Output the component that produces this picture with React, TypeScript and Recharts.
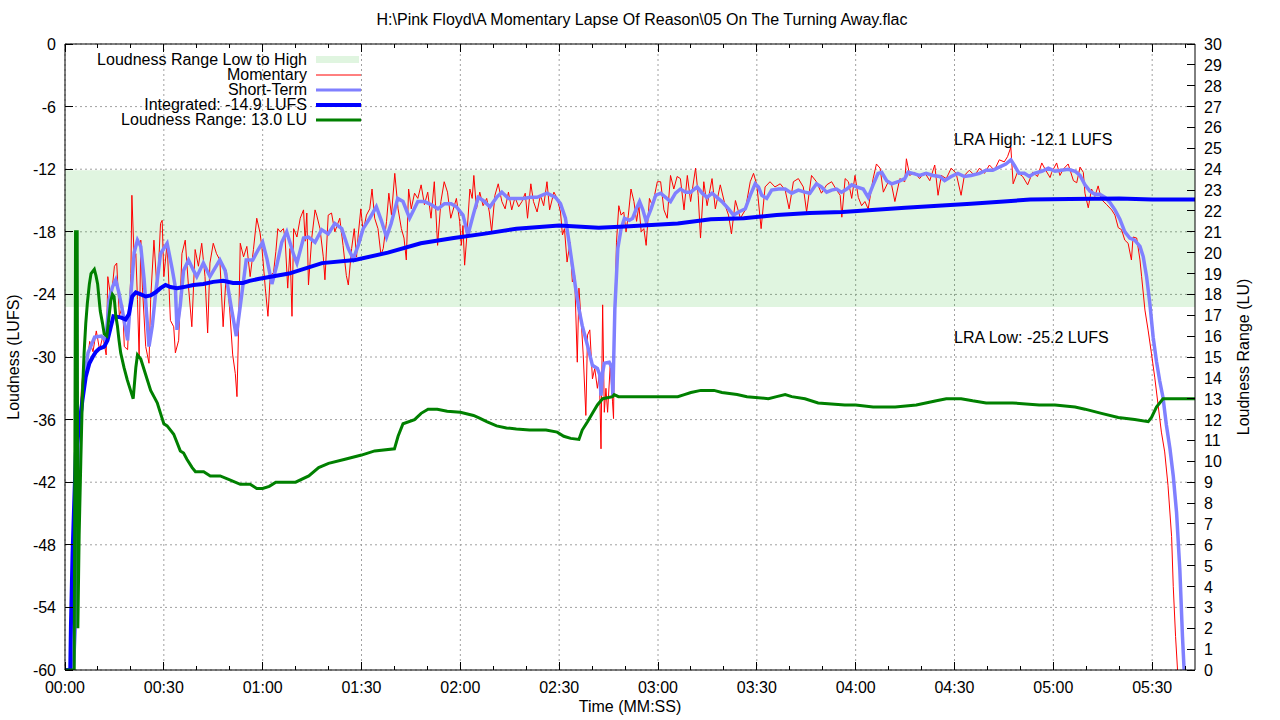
import { LineChart, Line, XAxis, YAxis, CartesianGrid, ReferenceArea } from "recharts";

const FONT = "'Liberation Sans', Arial, sans-serif";

// axis ticks
const xMax = 343;
const xMajor = [0, 30, 60, 90, 120, 150, 180, 210, 240, 270, 300, 330];
const xMinor = [0, 10, 20, 30, 40, 50, 60, 70, 80, 90, 100, 110, 120, 130, 140, 150, 160, 170, 180, 190, 200, 210, 220, 230, 240, 250, 260, 270, 280, 290, 300, 310, 320, 330, 340];
const lufsTicks = [-60, -54, -48, -42, -36, -30, -24, -18, -12, -6, 0];
const luTicks = Array.from({ length: 31 }, (_, i) => i);

const lraHigh = -12.1;
const lraLow = -25.2;
const integratedValue = -14.9;
const lraValue = 13.0;

// [seconds, LUFS]
const momentary: [number, number][] = [
  [0, -60], [2.5, -60], [3.2, -45], [4, -38.6], [5, -33], [5.8, -30.3], [6.5, -31], [7.5, -28.5], [8.5, -29.5], [9.5, -27.5],
  [10.5, -29.3], [11.5, -28], [12.5, -29.8], [13, -22.3], [14, -24.5], [15, -21.3], [15.7, -21], [16.5, -26.1], [17.5, -25], [18, -29],
  [19, -29.3], [20, -22], [20.3, -14.5], [21, -20.7], [21.5, -20.1], [22, -24.5], [22.5, -30], [23, -18.8], [23.5, -23.3], [24.5, -29],
  [25, -29.8], [25.5, -30.6], [26, -24.5], [27, -18.8], [28, -23.9], [29, -17.2], [29.5, -16.9], [30, -22.3], [31, -19.1], [32, -26.5],
  [33, -27.1], [33.5, -29.6], [34.5, -28.4], [35.5, -20.1], [36.5, -18.8], [37.5, -23.3], [38.5, -27.1], [39.5, -19.7], [40.5, -21.3], [41.5, -19.1],
  [42.5, -22.3], [43.3, -27.7], [44, -21], [45, -19.1], [46, -20.1], [47, -20.7], [48, -27.1], [49, -21.7], [50, -25.5], [50.9, -29.8],
  [51.7, -31.6], [52.2, -33.8], [52.7, -27.1], [53.2, -19.1], [54.2, -20.4], [55.2, -19.4], [56.2, -22.3], [57.2, -19.7], [58.2, -16.7], [59.2, -18.1],
  [59.8, -19.6], [60.8, -23.4], [61.6, -26.1], [62.3, -22.2], [63.3, -21.9], [64, -19.9], [64.6, -17.7], [65.3, -18], [66.3, -17.7], [66.8, -18.6],
  [67.6, -23.4], [68.3, -19.6], [68.9, -26.1], [69.4, -17.7], [70.4, -18.5], [71.4, -16.7], [72.4, -15.9], [72.9, -18.9], [73.4, -16.2], [73.9, -23.1],
  [74.9, -18.6], [75.9, -15.9], [76.4, -16.4], [77.4, -17.7], [78.4, -20.4], [78.9, -22.6], [79.9, -16.4], [80.9, -16.2], [81.9, -18], [83.4, -16.7],
  [84.4, -19.3], [85.4, -22.2], [86, -23.1], [87, -19.6], [87.8, -17.7], [88.5, -20.4], [89, -18.3], [89.8, -15.8], [90.5, -18], [91.5, -16.4],
  [92.5, -15.8], [93.2, -13.9], [94, -16.7], [95, -17.7], [95.9, -20.2], [96.6, -19.6], [97.6, -17], [98.3, -14.3], [99.1, -16.4], [100.1, -12.4],
  [101.1, -15.8], [102.1, -17.7], [102.9, -18.6], [103.6, -20.7], [104.3, -13.9], [105.1, -15.8], [106.1, -14.3], [107.1, -14.8], [108.1, -13.5], [109.1, -15.4],
  [110.1, -14.2], [111.1, -16.7], [112.1, -13.2], [113.1, -19.3], [114.1, -15.1], [115.1, -13.2], [116.1, -14.2], [117.1, -16.7],
  [118.8, -14.8], [119.8, -17], [120.3, -19.3], [120.8, -17.4], [121.3, -21.2], [122, -18.3], [122.9, -13.9], [123.6, -14.8], [124.1, -12.6], [124.9, -15.8],
  [125.9, -14.2], [126.9, -15.5], [128, -14.8], [128.8, -16.1], [129.5, -18], [130.5, -14.5], [131.5, -13.4], [132.6, -15.1], [133.6, -15.8], [134.6, -14.2],
  [135.6, -15.9], [136.6, -14.7], [137.7, -15.6], [138.7, -15.1], [139.7, -14.3], [140.4, -16.7], [141.4, -13.4], [142.2, -15.1], [143.3, -16.1], [144.3, -14.5],
  [145.3, -15.5], [146.3, -13.2], [147.1, -15.9], [148.4, -14.2], [149.4, -14.8], [150.4, -16.1], [151, -18.3], [151.6, -17.7], [152.4, -20.9], [153.3, -19],
  [154, -22.8], [154.7, -22.2], [155.5, -30.5], [156, -23.4], [156.7, -26.6], [157.3, -29.8], [158.1, -35.6], [158.6, -27.9], [159.3, -27.4], [160.1, -32.1],
  [160.8, -31.1], [161.6, -33], [162.2, -31.7], [162.7, -38.8], [163.2, -25], [163.7, -35.3], [164.2, -33], [164.7, -35.3], [165.5, -30.8], [166.2, -34.3],
  [166.5, -35.9], [166.9, -25.4], [167.4, -19], [168.1, -15.5], [168.8, -16.4], [169.6, -16.1], [170.3, -18], [171, -16.4], [171.8, -13.9], [172.7, -15.1],
  [173.5, -17], [174.2, -15.5], [174.9, -18], [175.7, -17.7], [176.4, -19.3], [177.4, -14.8],
  [178.3, -15.5], [179.8, -13.2], [180.8, -13.2], [181.8, -15.9], [182.8, -16.7], [183.8, -12.6], [184.8, -13.9], [185.8, -12.7], [186.8, -12.9], [187.9, -15.9],
  [188.9, -12.6], [189.9, -15.1], [191.4, -11.9], [192.2, -14.5], [192.9, -18.6], [193.9, -13.2], [194.9, -15.5], [196.4, -12.9], [197.4, -15.8], [198.9, -13.5],
  [200.4, -15.5], [201.4, -16.4], [202.3, -18.2], [203.5, -15], [205, -16.7], [206.5, -15.9], [208, -13.2], [209, -12.4], [210, -13.5], [211.3, -17.7],
  [212.5, -13.7], [214, -13.2], [215.5, -13.7], [217.1, -13.4], [218.6, -14], [219.8, -15.8], [221.1, -13.2], [222.6, -12.9], [224.1, -13.7], [225.1, -16.1],
  [226.6, -12.6], [228.1, -13.2], [229.6, -14.3], [231.2, -13.5], [232.7, -13.2], [234.2, -14], [235.3, -14.5], [235.8, -16.6], [236.8, -12.9],
  [237.8, -13.2], [238.8, -14.8], [239.8, -12.6], [240.8, -14.7], [241.8, -15.5], [242.8, -15.1], [243.8, -15.8], [245.3, -12.9], [246.3, -11.5], [247.4, -11.9],
  [248.4, -14.2], [249.9, -13.2], [250.9, -13.5], [251.9, -15.1], [253.4, -12.9], [254.9, -13.2], [255.4, -11], [256.4, -12.6], [257.9, -12.3], [259.4, -12.9],
  [260.9, -12.3], [262.5, -13.1], [264, -11.6], [265, -14.5], [266, -12.6], [267.5, -12.9], [269, -11.9], [270.5, -12.4], [272, -14.5], [273, -12.6],
  [274.5, -12.1], [276.1, -12.6], [277.6, -11.9], [279.1, -12.4], [280.6, -11.6], [282.1, -12.1], [283.6, -11.1], [285.1, -11.3], [286.1, -10.8], [287.1, -9.9],
  [287.8, -13.4], [289.1, -12.3], [290.7, -12.7], [292.2, -13.5], [293.7, -12.3], [295.2, -12.7],
  [296.5, -11.4], [297.5, -12], [299, -12.8], [299.5, -12.3], [301, -11.4], [302, -12.6], [303, -12], [304.5, -11.5], [306.1, -13.1], [307.1, -13.3],
  [308.1, -11.8], [309.1, -12.3], [309.6, -14.3], [310.6, -15.7], [311.6, -13.9], [312.6, -14.6], [313.6, -13.6], [314.6, -14.9], [316.2, -15.4], [317.7, -15.9],
  [318.7, -16.4], [319.7, -17.6], [320.7, -17.8], [321.7, -18.8], [322.7, -19.1], [323.7, -20.7], [324.2, -18.5], [325.3, -18.6], [326.3, -20.7], [326.8, -22.3],
  [327.8, -25.5], [328.8, -27.5], [329.8, -29.7], [330.8, -32], [331.8, -34.6], [332.8, -37.2], [333.8, -39.1], [334.8, -42.3], [335.9, -47.2], [336.4, -52],
  [337.1, -56.8], [337.7, -60],
];

const shortTerm: [number, number][] = [
  [0, -60], [2.5, -60], [3.3, -55], [4, -45], [4.8, -36], [5.5, -33], [7, -29.6], [9, -28.1], [11, -28], [12.4, -28.4],
  [13.4, -24.5], [14.4, -23.3], [15.4, -22.6], [16.4, -23.9], [17.4, -25.5], [19, -28.4], [20, -24], [21, -20], [22, -18.8], [23, -19.4],
  [24, -22.5], [25.5, -29], [26.5, -27], [27.5, -23.9], [29, -20.1], [31, -19.1], [32.5, -21.5], [33.5, -23.3], [34, -27.4], [35, -25],
  [36, -21.7], [37.5, -20.7], [39, -21.7], [40, -22.3], [42, -21], [44, -22.3], [47, -20.7], [48.6, -21.7], [50.6, -25.5], [52, -28],
  [53.7, -23.9], [55, -20.7], [57, -20.7], [58.5, -19.8],
  [60, -19], [61.3, -20.6], [62.8, -23], [64.3, -21.2], [65.8, -19], [67.3, -18], [69.4, -20.2], [70.4, -21], [72.4, -18.6], [73.9, -18.5],
  [75.9, -19], [77.9, -17.8], [79.9, -18.2], [81.9, -17.2], [84, -17.7], [86, -19.6], [87.5, -20.6], [89, -19.3], [90.5, -17.7], [92.5, -16.7],
  [94.5, -15.6], [96, -16.9], [97.6, -18.5], [99, -17.2], [101, -14.8], [102.6, -15.1], [104.6, -16.7], [107.1, -15.1], [109.1, -15.1], [111.2, -15.4],
  [113.2, -15.8], [115.2, -15.3], [117.2, -15.3],
  [118.8, -15.6], [120.8, -16.4], [122.3, -18.3], [123.9, -16.4], [125.4, -14.7], [126.9, -15], [129, -15.6], [131, -14.7], [132.6, -14.2], [134.6, -14.8],
  [137.1, -14.8], [139.2, -14.8], [141.2, -14.7], [143.3, -14.7], [146.3, -14.3], [148.9, -14.7], [150.4, -15.3], [151.9, -16.7], [153, -19], [154, -21.2],
  [155, -23.4], [156, -25.4], [157, -27], [158.6, -28.9], [160.1, -30.8], [161.6, -31.1], [162.3, -31.7], [162.7, -33.7], [163.2, -31.5], [163.7, -30.6],
  [165.2, -30.5], [166, -31], [166.3, -33.7], [166.9, -25.4], [167.8, -19.6], [168.8, -17.7], [169.8, -16.7], [171.3, -16.9], [172.3, -16.7], [173.4, -15.8],
  [174.4, -15.1], [175.4, -15.9], [176.4, -17], [177.9, -15.8],
  [179.3, -14.5], [180.8, -14.3], [182.3, -14.7], [183.8, -15.1], [185.3, -14.3], [186.8, -13.9], [188.4, -14.2], [189.9, -14.2], [191.9, -13.7], [193.4, -14.3],
  [194.9, -14.7], [196.4, -14.3], [197.9, -14.7], [199.4, -15.1], [201.4, -15.8], [202.9, -16.4], [204.5, -16.1], [206.5, -15.8], [208, -14.5], [209.5, -13.4],
  [210.5, -13.7], [211.5, -14.5], [213, -14.8], [214.5, -14], [216.6, -13.9], [218.6, -13.9], [220.6, -14.3], [222.6, -14], [224.6, -14.2], [226.1, -14.3],
  [228.1, -13.4], [229.6, -13.7], [231.2, -14.2], [232.7, -14], [234.2, -13.9], [235.7, -14.2],
  [237.3, -13.9], [238.8, -13.5], [240.3, -13.7], [242.3, -13.9], [243.8, -14.7], [245.3, -13.5], [246.8, -12.4], [247.9, -12.3], [249.4, -13.1], [250.9, -13.4],
  [252.9, -13.2], [254.9, -12.9], [255.9, -12.3], [257.4, -12.4], [259.4, -12.6], [261.4, -12.4], [263.5, -12.6], [265.5, -12.7], [267, -13.1], [269, -12.7],
  [271, -12.4], [273, -12.7], [275, -12.6], [277.6, -12.4], [279.6, -12.1], [281.6, -12.1], [283.6, -11.8], [285.6, -11.5], [287.1, -11.1], [288.1, -11.6],
  [289.6, -12.4], [291.2, -12.4], [292.7, -12.7], [294.2, -12.4],
  [296.5, -12.2], [298.5, -11.9], [300.5, -12.2], [302.5, -12.1], [304.5, -12], [306.6, -12.2], [308.1, -12.6], [309.6, -13.5], [311.1, -14.1], [312.6, -14.4],
  [314.1, -14.4], [315.7, -14.7], [317.2, -15.2], [318.7, -15.9], [320.2, -16.8], [321.7, -18], [323.2, -18.6], [324.7, -18.8], [326.3, -19.4], [327.3, -20.4],
  [328.3, -22.3], [329.3, -24.9], [330.3, -28.1], [331.3, -30.4], [332.3, -32.3], [333.3, -33.9], [334.3, -36.5], [335.4, -38.8], [336.4, -41.4], [337.4, -44.9],
  [338.4, -50.4], [339.2, -56.8], [339.7, -60],
];

const integrated: [number, number][] = [
  [0, -60], [1.6, -60], [1.8, -55.8], [2.3, -48.8], [3.3, -39.2], [4.3, -36.7], [5.3, -34.1], [6.3, -31.9], [7.4, -30.6], [8.4, -30],
  [9.4, -29.5], [10.4, -29.2], [11.9, -29], [12.9, -28.4], [13.9, -27.1], [14.7, -26.1], [16.9, -26.2], [18.4, -26.4], [19.4, -25.9], [20.4, -24.2],
  [21.5, -23.8], [23, -24], [24.5, -24.2], [26, -24.1], [27.5, -23.8], [29, -23.4], [30.5, -23.1], [32, -23.3], [34, -23.4], [36, -23.3],
  [39, -23.1], [42, -23], [45, -22.8], [48, -22.7], [51, -22.9], [54, -22.9], [56, -22.7], [59, -22.5], [68, -22], [78, -21],
  [88, -20.7], [98, -20], [108, -19.1], [118, -18.6], [127, -18.2], [137, -17.7], [150, -17.4], [162, -17.6], [170, -17.5], [186, -17.2],
  [196, -16.8], [206, -16.7], [216, -16.4], [226, -16.2], [236, -16.1], [245, -15.9], [255, -15.7], [265, -15.5], [275, -15.3], [285, -15.1],
  [293, -14.9], [305, -14.85], [320, -14.8], [330, -14.9], [343, -14.9],
];

// [seconds, LU]
const loudnessRange: [number, number][] = [
  [0, 0], [2.8, 0], [3.2, 21], [3.7, 21], [3.9, 2], [4.3, 6.5], [4.8, 10], [5.3, 13.3], [5.8, 15.2], [6.3, 16.6],
  [6.8, 17.6], [7.4, 18.5], [7.9, 19], [8.4, 19.1], [8.9, 19.2], [9.4, 18.9], [9.9, 18.5], [10.7, 17.2], [11.4, 16.6], [11.9, 16.1],
  [12.7, 16], [13.4, 17], [13.9, 17.7], [14.4, 18], [14.9, 17.9], [15.4, 17], [15.9, 16.5], [16.4, 15.8], [16.9, 15.2], [17.9, 14.5],
  [18.9, 13.9], [19.9, 13.4], [20.7, 13], [21.5, 14.5], [22, 15.1], [23, 14.9], [24, 14.4], [25, 13.9], [26, 13.4], [27, 13.1],
  [28, 12.8], [29, 12.3], [30, 11.8], [31, 11.7], [33, 11.3], [34, 10.9], [35, 10.5], [36, 10.4], [37, 10.1], [38.6, 9.7],
  [39.6, 9.5], [42.1, 9.5], [44.1, 9.3], [47.1, 9.3], [50.2, 9.1], [53.2, 8.9], [56.2, 8.9], [58.2, 8.7], [60, 8.7], [62, 8.8],
  [64, 9], [70, 9], [74, 9.3], [77, 9.7], [80, 9.9], [85, 10.1], [90, 10.3], [94, 10.5], [100, 10.6], [101.1, 11.2],
  [102.6, 11.8], [106.1, 12], [108.1, 12.3], [110.2, 12.5], [113, 12.5], [116, 12.4], [120, 12.35], [124, 12.2], [126, 12.06], [128, 11.9],
  [131, 11.7], [134, 11.6], [137, 11.55], [141, 11.5], [146, 11.5], [149.4, 11.4], [151.4, 11.2], [153.5, 11.1], [156, 11.05], [157, 11.5],
  [158.6, 11.9], [160.1, 12.3], [161.6, 12.7], [163.2, 13], [166.2, 13.1], [166.7, 13.2], [168, 13.1], [186, 13.1], [188, 13.2], [190, 13.3],
  [193, 13.4], [197, 13.4], [199.4, 13.3], [204, 13.2], [207, 13.1], [213.5, 13], [216, 13.1], [218.6, 13.2], [220.6, 13.1], [224.6, 13],
  [228.6, 12.8], [236.7, 12.7], [240, 12.7], [245.3, 12.6], [252, 12.6], [258.4, 12.7], [264.5, 12.9], [267.5, 13], [272, 13], [275.5, 12.9],
  [279.6, 12.8], [287.6, 12.8], [295.7, 12.7], [300.5, 12.7], [306.6, 12.6], [309.6, 12.5], [314.6, 12.3], [319.7, 12.1], [324.7, 12], [328.8, 11.9],
  [329.8, 12.1], [331.3, 12.6], [333.3, 13], [343, 13],
];

const toRows = (pts: [number, number][]) => pts.map(([t, v]) => ({ t, v }));

const mmss = (s: number) =>
  `${String(Math.floor(s / 60)).padStart(2, "0")}:${String(s % 60).padStart(2, "0")}`;

const txt = { fontFamily: FONT, fontSize: 16, fill: "#000" };

function BottomTick(props: any) {
  const { x, y, payload } = props;
  const major = payload.value % 30 === 0;
  return (
    <g>
      <line x1={x} y1={y} x2={x} y2={y - (major ? 8 : 4)} stroke="#000" shapeRendering="crispEdges" />
      {major && (
        <text x={x} y={y + 23} textAnchor="middle" {...txt}>
          {mmss(payload.value)}
        </text>
      )}
    </g>
  );
}

function TopTick(props: any) {
  const { x, y, payload } = props;
  const major = payload.value % 30 === 0;
  return <line x1={x} y1={y} x2={x} y2={y + (major ? 8 : 4)} stroke="#000" shapeRendering="crispEdges" />;
}

function LeftTick(props: any) {
  const { x, y, payload } = props;
  return (
    <g>
      <line x1={x} y1={y} x2={x + 8} y2={y} stroke="#000" shapeRendering="crispEdges" />
      <text x={x - 9} y={y + 6} textAnchor="end" {...txt}>
        {payload.value}
      </text>
    </g>
  );
}

function RightTick(props: any) {
  const { x, y, payload } = props;
  return (
    <g>
      <line x1={x} y1={y} x2={x - 8} y2={y} stroke="#000" shapeRendering="crispEdges" />
      <text x={x + 9} y={y + 6} textAnchor="start" {...txt}>
        {payload.value}
      </text>
    </g>
  );
}

// vertical grid only at the labelled (30 s) ticks
const majorGridX = (args: any) => {
  const scale = args?.xAxis?.scale;
  if (typeof scale === "function") return xMajor.map((v) => scale(v));
  if (scale && typeof scale.map === "function") return xMajor.map((v) => scale.map(v));
  const { left, width } = args.offset;
  return xMajor.map((v) => left + (v / xMax) * width);
};

const legendRows = [
  { label: "Loudness Range Low to High", kind: "band", color: "#e0f5e0", width: 0 },
  { label: "Momentary", kind: "line", color: "#ff0000", width: 1 },
  { label: "Short-Term", kind: "line", color: "#8080ff", width: 3 },
  { label: `Integrated: ${integratedValue.toFixed(1)} LUFS`, kind: "line", color: "#0000ff", width: 4 },
  { label: `Loudness Range: ${lraValue.toFixed(1)} LU`, kind: "line", color: "#008000", width: 3 },
];

export default function App() {
  return (
    <div style={{ position: "absolute", left: 0, top: 0, width: 1280, height: 720, background: "#fff" }}>
      <LineChart width={1280} height={720} margin={{ top: 0, right: 0, bottom: 0, left: 0 }}>
        <ReferenceArea
          xAxisId="main"
          yAxisId="left"
          y1={lraLow}
          y2={lraHigh}
          fill="#00b000"
          fillOpacity={0.12}
          stroke="none"
        />
        <CartesianGrid
          xAxisId="main"
          yAxisId="left"
          stroke="#a0a0a0"
          strokeDasharray="2 3"
          verticalCoordinatesGenerator={majorGridX}
        />
        <XAxis
          xAxisId="main"
          type="number"
          dataKey="t"
          domain={[0, xMax]}
          allowDataOverflow
          ticks={xMinor}
          interval={0}
          height={50}
          tickSize={0}
          tickMargin={0}
          tickLine={false}
          tick={BottomTick}
          axisLine={{ stroke: "#000" }}
        />
        <XAxis
          xAxisId="top"
          orientation="top"
          type="number"
          dataKey="t"
          domain={[0, xMax]}
          allowDataOverflow
          ticks={xMinor}
          interval={0}
          height={44}
          tickSize={0}
          tickMargin={0}
          tickLine={false}
          tick={TopTick}
          axisLine={{ stroke: "#000" }}
        />
        <YAxis
          yAxisId="left"
          domain={[-60, 0]}
          allowDataOverflow
          ticks={lufsTicks}
          interval={0}
          width={65}
          tickSize={0}
          tickMargin={0}
          tickLine={false}
          tick={LeftTick}
          axisLine={{ stroke: "#000" }}
        />
        <YAxis
          yAxisId="right"
          orientation="right"
          domain={[0, 30]}
          allowDataOverflow
          ticks={luTicks}
          interval={0}
          width={85}
          tickSize={0}
          tickMargin={0}
          tickLine={false}
          tick={RightTick}
          axisLine={{ stroke: "#000" }}
        />
        <Line xAxisId="main" yAxisId="left" data={toRows(momentary)} dataKey="v" stroke="#ff0000" strokeWidth={1} dot={false} activeDot={false} isAnimationActive={false} />
        <Line xAxisId="main" yAxisId="left" data={toRows(shortTerm)} dataKey="v" stroke="#8080ff" strokeWidth={3.5} dot={false} activeDot={false} isAnimationActive={false} />
        <Line xAxisId="main" yAxisId="left" data={toRows(integrated)} dataKey="v" stroke="#0000ff" strokeWidth={4} dot={false} activeDot={false} isAnimationActive={false} />
        <Line xAxisId="main" yAxisId="right" data={toRows(loudnessRange)} dataKey="v" stroke="#008000" strokeWidth={3} dot={false} activeDot={false} isAnimationActive={false} />
      </LineChart>

      <svg width={1280} height={720} style={{ position: "absolute", left: 0, top: 0, pointerEvents: "none" }}>
        <text x={642} y={25} textAnchor="middle" {...txt}>
          H:\Pink Floyd\A Momentary Lapse Of Reason\05 On The Turning Away.flac
        </text>
        <text x={630} y={712} textAnchor="middle" {...txt}>
          Time (MM:SS)
        </text>
        <text transform="translate(19,357) rotate(-90)" textAnchor="middle" {...txt}>
          Loudness (LUFS)
        </text>
        <text transform="translate(1249,357) rotate(-90)" textAnchor="middle" {...txt}>
          Loudness Range (LU)
        </text>
        <text x={954} y={145} {...txt}>
          LRA High: {lraHigh.toFixed(1)} LUFS
        </text>
        <text x={954} y={343} {...txt}>
          LRA Low: {lraLow.toFixed(1)} LUFS
        </text>
        {legendRows.map((r, i) => {
          const cy = 59 + i * 15;
          return (
            <g key={r.label}>
              <text x={307} y={cy + 6} textAnchor="end" {...txt}>
                {r.label}
              </text>
              {r.kind === "band" ? (
                <rect x={316} y={cy - 3} width={43} height={7} fill={r.color} />
              ) : (
                <line x1={316} y1={cy + 1} x2={361} y2={cy + 1} stroke={r.color} strokeWidth={r.width} />
              )}
            </g>
          );
        })}
      </svg>
    </div>
  );
}
